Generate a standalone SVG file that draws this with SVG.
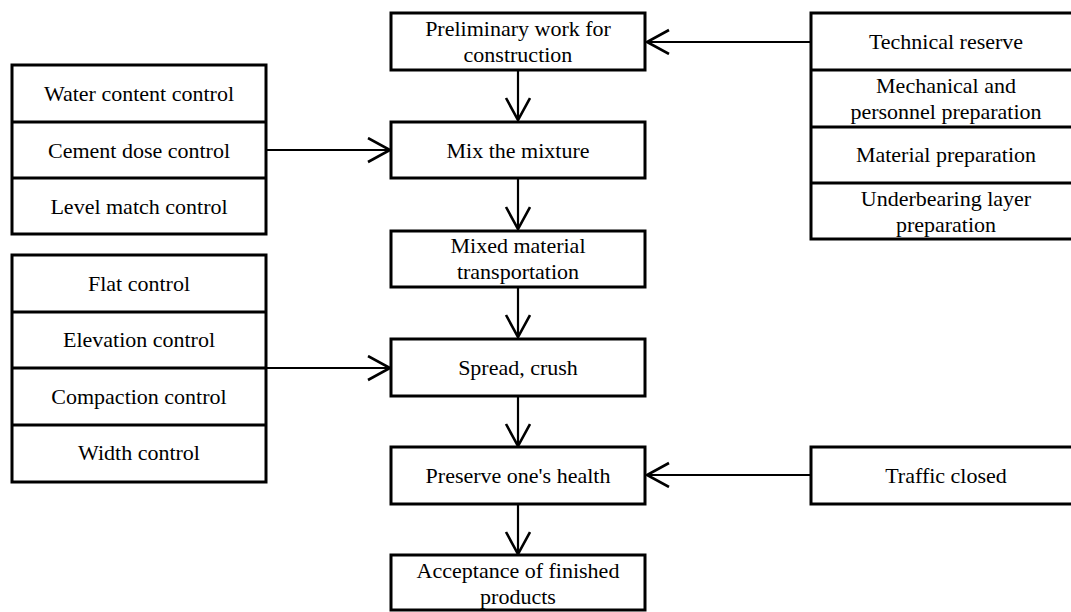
<svg xmlns="http://www.w3.org/2000/svg" width="1071" height="612" viewBox="0 0 1071 612">
<style>
.box{fill:#fff;stroke:#000;stroke-width:3}
.div{stroke:#000;stroke-width:3}
.t{font-family:"Liberation Serif","Times New Roman",serif;font-size:22px;fill:#000;text-anchor:middle}
.c{stroke:#000;stroke-width:2.2;fill:none}
</style>
<defs>
<marker id="ah" markerUnits="userSpaceOnUse" markerWidth="26" markerHeight="28" refX="23" refY="13" orient="auto" viewBox="0 0 26 28">
<path d="M1,1 L23,13 L1,25" fill="none" stroke="#000" stroke-width="2.6"/>
</marker>
</defs>
<rect width="1071" height="612" fill="#fff"/>

<g id="connectors">
<line class="c" x1="811" y1="42" x2="647" y2="42" marker-end="url(#ah)"/>
<line class="c" x1="267" y1="150" x2="390" y2="150" marker-end="url(#ah)"/>
<line class="c" x1="267" y1="368" x2="390" y2="368" marker-end="url(#ah)"/>
<line class="c" x1="811" y1="475" x2="647" y2="475" marker-end="url(#ah)"/>
<line class="c" x1="518" y1="70" x2="518" y2="120" marker-end="url(#ah)"/>
<line class="c" x1="518" y1="178" x2="518" y2="229" marker-end="url(#ah)"/>
<line class="c" x1="518" y1="287" x2="518" y2="337" marker-end="url(#ah)"/>
<line class="c" x1="518" y1="396" x2="518" y2="446" marker-end="url(#ah)"/>
<line class="c" x1="518" y1="504" x2="518" y2="554" marker-end="url(#ah)"/>
</g>

<g id="n-prelim">
<rect class="box" x="391" y="13" width="254" height="57"/>
<text class="t" x="518" y="36">Preliminary work for</text>
<text class="t" x="518" y="62">construction</text>
</g>
<g id="n-mix">
<rect class="box" x="391" y="122" width="254" height="56"/>
<text class="t" x="518" y="158">Mix the mixture</text>
</g>
<g id="n-transport">
<rect class="box" x="391" y="231" width="254" height="56"/>
<text class="t" x="518" y="253">Mixed material</text>
<text class="t" x="518" y="279">transportation</text>
</g>
<g id="n-spread">
<rect class="box" x="391" y="339" width="254" height="57"/>
<text class="t" x="518" y="375">Spread, crush</text>
</g>
<g id="n-preserve">
<rect class="box" x="391" y="447" width="254" height="57"/>
<text class="t" x="518" y="483">Preserve one's health</text>
</g>
<g id="n-accept">
<rect class="box" x="391" y="555" width="254" height="55"/>
<text class="t" x="518" y="578">Acceptance of finished</text>
<text class="t" x="518" y="604">products</text>
</g>

<g id="n-left1">
<rect class="box" x="12" y="65" width="254" height="169"/>
<line class="div" x1="12" y1="122" x2="266" y2="122"/>
<line class="div" x1="12" y1="178" x2="266" y2="178"/>
<text class="t" x="139" y="101">Water content control</text>
<text class="t" x="139" y="158">Cement dose control</text>
<text class="t" x="139" y="214">Level match control</text>
</g>

<g id="n-left2">
<rect class="box" x="12" y="255" width="254" height="227"/>
<line class="div" x1="12" y1="312" x2="266" y2="312"/>
<line class="div" x1="12" y1="368" x2="266" y2="368"/>
<line class="div" x1="12" y1="425" x2="266" y2="425"/>
<text class="t" x="139" y="291">Flat control</text>
<text class="t" x="139" y="347">Elevation control</text>
<text class="t" x="139" y="404">Compaction control</text>
<text class="t" x="139" y="460">Width control</text>
</g>

<g id="n-right1">
<rect class="box" x="811" y="13" width="270" height="226"/>
<line class="div" x1="811" y1="70" x2="1081" y2="70"/>
<line class="div" x1="811" y1="127" x2="1081" y2="127"/>
<line class="div" x1="811" y1="183" x2="1081" y2="183"/>
<text class="t" x="946" y="49">Technical reserve</text>
<text class="t" x="946" y="93">Mechanical and</text>
<text class="t" x="946" y="119">personnel preparation</text>
<text class="t" x="946" y="162">Material preparation</text>
<text class="t" x="946" y="206">Underbearing layer</text>
<text class="t" x="946" y="232">preparation</text>
</g>

<g id="n-traffic">
<rect class="box" x="811" y="447" width="270" height="57"/>
<text class="t" x="946" y="483">Traffic closed</text>
</g>
</svg>
